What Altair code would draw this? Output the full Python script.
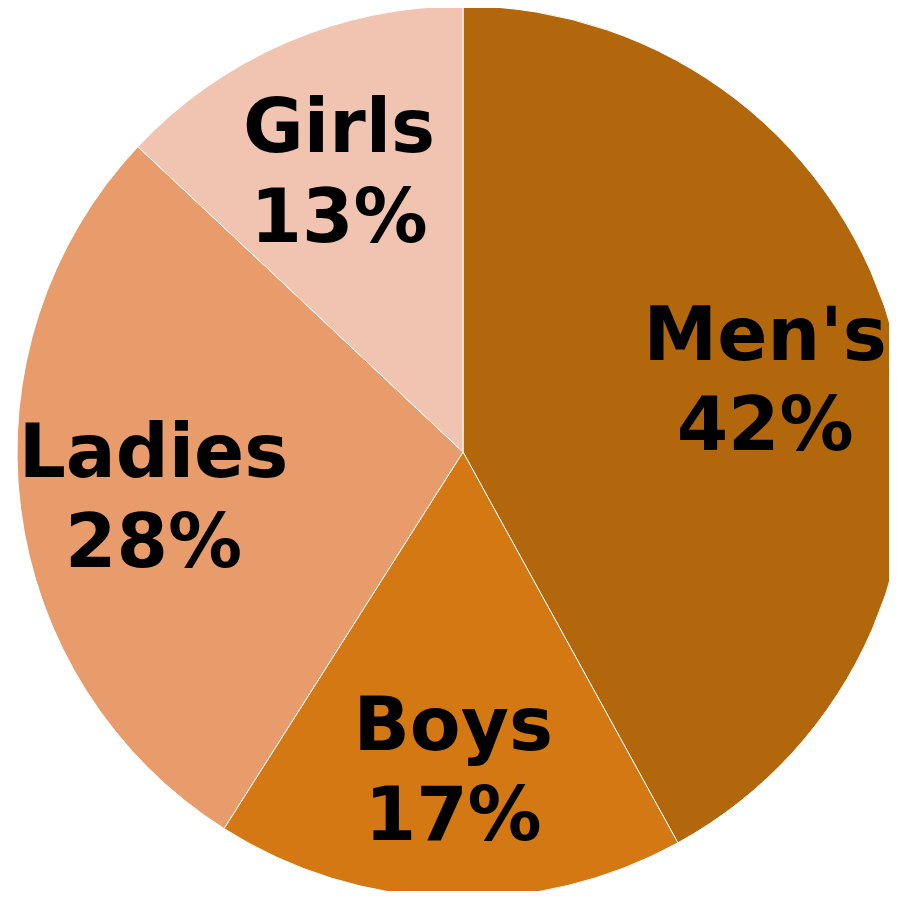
import altair as alt
import pandas as pd

categories = ["Men's", "Boys", "Ladies", "Girls"]
shares = [42, 17, 28, 13]
colors = ["#B3670D", "#D37812", "#E89C6C", "#F0C4B0"]

df = pd.DataFrame({
    "category": categories,
    "share": shares,
    "order": list(range(len(categories))),
})
df["label"] = df["category"] + "\n" + df["share"].astype(str) + "%"

base = alt.Chart(df).encode(
    theta=alt.Theta("share:Q", stack=True),
    order=alt.Order("order:Q"),
)

pie = base.mark_arc(stroke="white", strokeWidth=1).encode(
    color=alt.Color("category:N", scale=alt.Scale(domain=categories, range=colors), legend=None),
    x=alt.value(455),
    y=alt.value(444),
    radius=alt.value(446),
)

labels = base.mark_text(
    font="DejaVu Sans", fontWeight="bold", fontSize=74, color="black",
    lineBreak="\n", lineHeight=90, align="center", baseline="middle", dy=-36,
).encode(
    text="label:N",
    x=alt.value(455),
    y=alt.value(444),
    radius=alt.value(312),
)

chart = (pie + labels).properties(
    width=881, height=883, padding=0, autosize=alt.AutoSizeParams(type="none")
).configure_view(stroke=None)

chart.save("out.html", embed_options={"renderer": "svg", "actions": False})
